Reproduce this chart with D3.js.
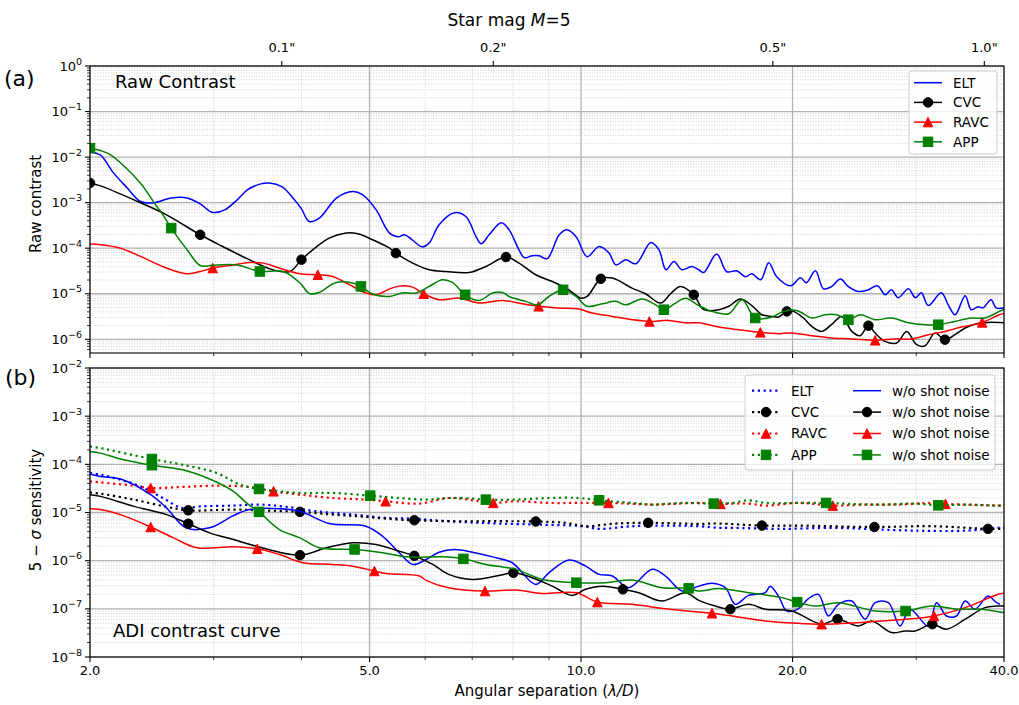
<!DOCTYPE html>
<html><head><meta charset="utf-8">
<script src="https://cdn.jsdelivr.net/npm/d3@7"></script>
<style>body{margin:0;background:#fff;} svg{display:block;font-family:"DejaVu Sans",sans-serif;}</style>
</head><body><svg id="chart" width="1019" height="705"></svg>
<script>
// ---------------- DATA ----------------
const sepMajorTicks = [2, 5, 10, 20, 40];
const sepMinorTicks = [3, 4, 6, 7, 8, 9, 30];
const arcsecTicks = [0.1, 0.2, 0.5, 1.0];
const ldPerArcsec = 37.5;

// Panel (a) raw contrast  [separation (lambda/D), contrast]
const rawELT = [[2.0,1.3e-2],[2.07,1.1e-2],[2.16,4.5e-3],[2.26,2.1e-3],[2.36,1.06e-3],[2.47,1.0e-3],[2.61,1.27e-3],[2.75,1.27e-3],[2.87,9.4e-4],[2.99,6.1e-4],[3.11,6.95e-4],[3.24,1.15e-3],[3.35,1.91e-3],[3.49,2.55e-3],[3.60,2.7e-3],[3.75,2.25e-3],[3.89,1.27e-3],[4.0,7.3e-4],[4.10,3.85e-4],[4.24,4.57e-4],[4.49,1.27e-3],[4.73,1.75e-3],[4.89,1.48e-3],[5.11,6.95e-4],[5.34,2.14e-4],[5.51,1.78e-4],[5.60,1.97e-4],[5.75,1.53e-4],[5.94,1.07e-4],[6.08,1.31e-4],[6.28,3.26e-4],[6.60,6.0e-4],[6.86,4.9e-4],[7.09,1.78e-4],[7.21,1.25e-4],[7.40,1.97e-4],[7.70,3.6e-4],[7.90,2.53e-4],[8.16,9.2e-5],[8.30,6.2e-5],[8.52,6.8e-5],[8.72,6.8e-5],[8.95,5.9e-5],[9.31,1.97e-4],[9.55,2.53e-4],[9.84,1.78e-4],[10.2,6.5e-5],[10.61,1.09e-4],[10.96,7.8e-5],[11.21,4.3e-5],[11.58,5.6e-5],[11.97,4.55e-5],[12.57,1.33e-4],[12.91,9.2e-5],[13.21,3.36e-5],[13.56,5.1e-5],[13.92,3.36e-5],[14.38,3.97e-5],[14.71,3.36e-5],[14.95,2.93e-5],[15.6,7.5e-5],[16.12,3.04e-5],[16.65,3.2e-5],[17.15,2.36e-5],[17.5,2.75e-5],[18.02,2.03e-5],[18.5,4.8e-5],[18.99,2.36e-5],[19.87,1.5e-5],[20.53,2.24e-5],[20.93,1.74e-5],[21.56,3.2e-5],[22.13,1.29e-5],[22.72,1.43e-5],[23.4,2.1e-5],[24.02,1.43e-5],[24.82,1.12e-5],[25.65,1.22e-5],[26.41,1.5e-5],[27.11,9.5e-6],[27.65,1.22e-5],[28.29,8.2e-6],[29.24,1.29e-5],[29.91,8.2e-6],[30.51,1.05e-5],[31.21,5.5e-6],[32.56,1.05e-5],[33.32,5.7e-6],[34.08,3.46e-6],[35.22,9.0e-6],[35.92,4.46e-6],[36.75,5.2e-6],[37.35,4.9e-6],[38.34,7.4e-6],[38.98,4.9e-6],[40,4.9e-6]];
const rawCVC = [[2.0,2.7e-3],[2.07,2.33e-3],[2.31,1.15e-3],[2.57,5.4e-4],[2.87,1.97e-4],[3.09,1.09e-4],[3.37,5.6e-5],[3.64,3.36e-5],[3.85,3.08e-5],[4.0,5.6e-5],[4.15,9.2e-5],[4.38,1.66e-4],[4.61,2.14e-4],[4.81,2.07e-4],[5.05,1.53e-4],[5.34,1.0e-4],[5.45,7.8e-5],[5.76,4.7e-5],[6.08,3.36e-5],[6.42,3.08e-5],[6.93,2.93e-5],[7.32,3.97e-5],[7.82,6.4e-5],[8.16,4.7e-5],[8.62,2.61e-5],[9.20,1.72e-5],[9.61,1.22e-5],[9.99,8.0e-6],[10.2,8.7e-6],[10.67,2.13e-5],[11.08,2.21e-5],[11.82,1.33e-5],[12.35,1.0e-5],[12.98,6.25e-6],[13.41,1.0e-5],[13.85,1.45e-5],[14.47,9.5e-6],[14.95,4.46e-6],[15.71,4.46e-6],[16.23,5.3e-6],[16.86,7.65e-6],[17.5,5.5e-6],[18.09,3.46e-6],[18.69,3.18e-6],[19.10,3.08e-6],[19.63,4.1e-6],[20.06,4.1e-6],[20.73,2.93e-6],[21.30,1.92e-6],[22.0,1.49e-6],[22.72,2.09e-6],[23.5,3.18e-6],[24.29,1.49e-6],[24.96,1.2e-6],[25.65,1.99e-6],[26.22,1.37e-6],[27.08,9.0e-7],[28.13,8.3e-7],[29.08,1.49e-6],[30.04,7.6e-7],[30.88,7.2e-7],[31.9,1.37e-6],[32.96,9.8e-7],[34.05,1.26e-6],[35.22,1.77e-6],[36.55,2.2e-6],[37.96,2.35e-6],[40,2.3e-6]];
const rawRAVC = [[2.0,1.23e-4],[2.07,1.19e-4],[2.21,1.0e-4],[2.36,6.6e-5],[2.57,3.66e-5],[2.74,2.75e-5],[2.87,3.08e-5],[2.99,3.66e-5],[3.20,4.3e-5],[3.37,4.85e-5],[3.53,4.7e-5],[3.72,3.66e-5],[3.98,2.75e-5],[4.22,2.61e-5],[4.43,2.4e-5],[4.68,1.58e-5],[4.94,1.04e-5],[5.11,9.5e-6],[5.34,1.28e-5],[5.51,1.47e-5],[5.60,1.5e-5],[5.76,1.4e-5],[5.97,1.0e-5],[6.28,7.4e-6],[6.71,8.0e-6],[7.16,6.25e-6],[7.73,7.1e-6],[8.25,6.0e-6],[8.70,5.3e-6],[9.31,4.86e-6],[9.93,4.6e-6],[10.38,3.77e-6],[11.08,3.18e-6],[11.82,2.69e-6],[12.51,2.47e-6],[13.33,2.6e-6],[14.08,2.3e-6],[14.71,2.3e-6],[15.71,1.86e-6],[16.76,1.62e-6],[18.0,1.42e-6],[19.10,1.33e-6],[19.95,1.37e-6],[21.3,1.2e-6],[22.72,1.07e-6],[24.29,1.02e-6],[26.22,9.5e-7],[27.99,1.02e-6],[29.56,1.02e-6],[31.21,1.26e-6],[32.96,1.49e-6],[34.8,1.86e-6],[37.24,2.35e-6],[39.4,3.46e-6],[40,3.7e-6]];
const rawAPP = [[2.0,1.57e-2],[2.07,1.39e-2],[2.14,1.12e-2],[2.36,2.68e-3],[2.47,9.75e-4],[2.54,5.4e-4],[2.61,2.76e-4],[2.76,8.5e-5],[2.87,4.18e-5],[3.03,4.3e-5],[3.24,4.3e-5],[3.49,3.08e-5],[3.77,3.08e-5],[3.98,1.72e-5],[4.11,1.0e-5],[4.24,1.07e-5],[4.48,1.77e-5],[4.73,1.72e-5],[4.86,1.45e-5],[5.05,9.85e-6],[5.34,8.7e-6],[5.57,1.04e-5],[5.82,1.04e-5],[6.08,1.45e-5],[6.35,2.03e-5],[6.56,1.77e-5],[6.84,9.5e-6],[7.16,7.1e-6],[7.48,1.04e-5],[7.73,1.07e-5],[7.90,8.7e-6],[8.34,6.8e-6],[8.67,5.7e-6],[9.0,8.7e-6],[9.43,1.22e-5],[9.84,8.7e-6],[10.2,5.3e-6],[10.72,6.0e-6],[11.2,6.8e-6],[11.58,5.7e-6],[12.21,7.65e-6],[12.77,5.7e-6],[13.12,4.46e-6],[13.63,6.25e-6],[14.08,8.0e-6],[14.71,5.5e-6],[15.36,4.1e-6],[16.23,3.64e-6],[16.95,7.4e-6],[17.7,2.93e-6],[18.69,3.08e-6],[19.42,4.1e-6],[20.28,4.3e-6],[21.3,2.93e-6],[22.25,3.46e-6],[23.11,3.46e-6],[24.02,2.69e-6],[24.96,3.46e-6],[26.22,2.69e-6],[27.67,2.93e-6],[29.24,2.3e-6],[30.88,2.09e-6],[32.25,2.09e-6],[34.05,2.47e-6],[35.95,2.93e-6],[37.56,2.93e-6],[39.4,4.1e-6],[40,4.5e-6]];
const rawCVCMarks = [[2.0,2.7e-3],[2.87,1.97e-4],[4.0,5.6e-5],[5.45,7.8e-5],[7.82,6.4e-5],[10.67,2.13e-5],[14.47,9.5e-6],[19.63,4.1e-6],[25.65,1.99e-6],[32.96,9.8e-7]];
const rawRAVCMarks = [[2.99,3.66e-5],[4.22,2.61e-5],[5.97,1.0e-5],[8.70,5.3e-6],[12.51,2.47e-6],[18.0,1.42e-6],[26.22,9.5e-7],[37.24,2.35e-6]];
const rawAPPMarks = [[2.0,1.57e-2],[2.61,2.76e-4],[3.49,3.08e-5],[4.86,1.45e-5],[6.84,9.5e-6],[9.43,1.22e-5],[13.12,4.46e-6],[17.7,2.93e-6],[24.02,2.69e-6],[32.25,2.09e-6]];

// Panel (b) ADI 5-sigma sensitivity, with shot noise (dotted)
const adiELT = [[2.0,6.6e-5],[2.07,6.1e-5],[2.21,4.8e-5],[2.36,3.49e-5],[2.54,2.0e-5],[2.70,1.25e-5],[2.87,1.34e-5],[3.20,1.39e-5],[3.49,1.46e-5],[3.81,1.31e-5],[4.20,1.06e-5],[4.73,9.05e-6],[5.28,7.7e-6],[5.89,7.4e-6],[6.02,7.1e-6],[6.86,6.3e-6],[7.64,5.9e-6],[8.72,5.6e-6],[10.04,5.2e-6],[10.61,4.57e-6],[11.82,5.2e-6],[13.19,5.35e-6],[14.71,5.2e-6],[15.71,4.8e-6],[16.40,4.8e-6],[19.31,4.57e-6],[22.72,4.8e-6],[25.37,4.57e-6],[29.89,4.2e-6],[35.22,4.2e-6],[39.24,4.8e-6],[40,4.8e-6]];
const adiCVC = [[2.0,2.6e-5],[2.07,2.46e-5],[2.31,1.85e-5],[2.57,1.31e-5],[2.76,1.11e-5],[3.20,1.15e-5],[3.56,1.1e-5],[3.98,1.03e-5],[4.43,9.05e-6],[4.94,8.1e-6],[5.51,7.1e-6],[5.79,6.9e-6],[6.49,6.6e-6],[7.64,6.6e-6],[8.62,6.5e-6],[9.51,6.1e-6],[10.15,5.2e-6],[11.2,5.9e-6],[12.46,6.1e-6],[13.94,5.9e-6],[14.71,5.8e-6],[15.71,5.9e-6],[18.09,5.35e-6],[20.40,5.35e-6],[26.16,5.0e-6],[31.55,5.2e-6],[37.96,4.57e-6],[40,4.57e-6]];
const adiRAVC = [[2.0,4.43e-5],[2.07,4.22e-5],[2.31,3.6e-5],[2.44,3.23e-5],[2.71,3.39e-5],[3.03,3.6e-5],[3.37,3.39e-5],[3.65,2.75e-5],[3.98,2.35e-5],[4.43,2.0e-5],[4.94,1.85e-5],[5.27,1.71e-5],[5.89,1.53e-5],[6.49,2.0e-5],[7.16,1.71e-5],[7.50,1.58e-5],[8.07,1.71e-5],[9.0,1.58e-5],[9.93,1.58e-5],[10.94,1.58e-5],[11.82,1.51e-5],[12.77,1.46e-5],[14.71,1.58e-5],[15.79,1.51e-5],[17.32,1.53e-5],[18.29,1.39e-5],[20.40,1.58e-5],[22.82,1.39e-5],[25.37,1.46e-5],[28.29,1.46e-5],[31.55,1.58e-5],[33.01,1.51e-5],[39.24,1.39e-5],[40,1.39e-5]];
const adiAPP = [[2.0,2.35e-4],[2.07,2.17e-4],[2.45,1.29e-4],[2.71,9.8e-5],[3.03,6.6e-5],[3.27,3.78e-5],[3.48,3.08e-5],[3.98,2.55e-5],[4.43,2.55e-5],[5.01,2.24e-5],[5.51,2.0e-5],[6.02,1.85e-5],[6.49,2.0e-5],[7.01,1.94e-5],[7.32,1.85e-5],[8.07,1.85e-5],[9.0,2.0e-5],[9.93,2.0e-5],[10.61,1.79e-5],[11.82,1.58e-5],[12.63,1.46e-5],[13.94,1.58e-5],[15.45,1.53e-5],[16.40,1.58e-5],[17.32,1.79e-5],[18.29,1.58e-5],[20.40,1.58e-5],[22.33,1.58e-5],[24.02,1.51e-5],[26.78,1.46e-5],[29.89,1.53e-5],[32.25,1.41e-5],[35.22,1.46e-5],[39.24,1.39e-5],[40,1.39e-5]];
const adiCVCMarks = [[2.76,1.11e-5],[3.98,1.03e-5],[5.79,6.9e-6],[8.62,6.5e-6],[12.46,6.1e-6],[18.09,5.35e-6],[26.16,5.0e-6],[37.96,4.57e-6]];
const adiRAVCMarks = [[2.44,3.23e-5],[3.65,2.75e-5],[5.27,1.71e-5],[7.50,1.58e-5],[10.94,1.58e-5],[15.79,1.51e-5],[22.82,1.39e-5],[33.01,1.51e-5]];
const adiAPPMarks = [[2.45,1.29e-4],[3.48,3.08e-5],[5.01,2.24e-5],[7.32,1.85e-5],[10.61,1.79e-5],[15.45,1.53e-5],[22.33,1.58e-5],[32.25,1.41e-5]];

// Panel (b) without shot noise (solid)
const noShotELT = [[2.0,6.3e-5],[2.07,5.6e-5],[2.21,4.96e-5],[2.44,2.35e-5],[2.57,1.25e-5],[2.74,4.8e-6],[2.96,4.8e-6],[3.20,8.6e-6],[3.37,1.15e-5],[3.72,1.2e-5],[3.98,1.06e-5],[4.38,5.9e-6],[4.94,5.2e-6],[5.22,3.2e-6],[5.51,1.46e-6],[5.76,8.35e-7],[6.02,1.06e-6],[6.28,1.5e-6],[6.60,1.71e-6],[7.01,1.5e-6],[7.48,1.2e-6],[7.98,9.05e-7],[8.62,3.21e-7],[9.0,5.6e-7],[9.61,1.03e-6],[10.15,7.7e-7],[10.61,5.2e-7],[11.08,4.8e-7],[11.69,2.75e-7],[12.63,6.6e-7],[13.19,4.8e-7],[13.94,2.34e-7],[14.71,2.96e-7],[15.36,3.4e-7],[16.05,2.75e-7],[16.58,1.24e-7],[17.32,1.9e-7],[18.29,2.16e-7],[18.59,2.96e-7],[19.10,1.84e-7],[19.63,9.0e-8],[20.40,1.01e-7],[21.07,1.63e-7],[21.77,2.0e-7],[22.50,7.1e-8],[23.25,1.24e-7],[24.29,1.45e-7],[25.37,6.1e-8],[26.22,1.34e-7],[27.38,1.34e-7],[28.45,4.4e-8],[29.39,9.8e-8],[31.21,4.4e-8],[32.07,1.34e-7],[33.13,7.1e-8],[34.23,7.1e-8],[35.22,1.45e-7],[36.36,9.8e-8],[37.96,1.84e-7],[39.03,1.34e-7],[39.5,1.25e-7]];
const noShotCVC = [[2.0,2.35e-5],[2.07,2.16e-5],[2.31,1.34e-5],[2.57,9.05e-6],[2.76,5.85e-6],[2.96,3.78e-6],[3.20,2.75e-6],[3.45,2.0e-6],[3.98,1.3e-6],[4.34,1.85e-6],[4.73,2.35e-6],[5.11,2.16e-6],[5.51,1.57e-6],[5.79,1.26e-6],[6.15,8.35e-7],[6.48,5.2e-7],[7.01,4.08e-7],[7.64,4.9e-7],[8.01,5.6e-7],[8.52,4.43e-7],[9.10,2.96e-7],[9.72,1.9e-7],[10.15,2.54e-7],[10.72,2.96e-7],[11.47,2.54e-7],[12.08,2.16e-7],[13.04,1.45e-7],[14.08,2.16e-7],[14.71,1.5e-7],[15.53,1.14e-7],[16.31,9.8e-8],[17.32,1.24e-7],[18.29,9.8e-8],[19.95,9.0e-8],[22.0,4.8e-8],[23.18,6.1e-8],[24.82,4.4e-8],[25.93,5.6e-8],[27.67,3.21e-8],[28.91,3.47e-8],[29.89,3.47e-8],[31.62,4.8e-8],[33.13,3.77e-8],[35.22,6.1e-8],[37.56,1.06e-7],[39.03,1.14e-7],[40,1.14e-7]];
const noShotRAVC = [[2.0,1.19e-5],[2.07,1.15e-5],[2.23,8.6e-6],[2.44,5.0e-6],[2.63,2.98e-6],[2.84,1.85e-6],[3.20,1.94e-6],[3.46,1.76e-6],[3.72,1.34e-6],[4.02,9.05e-7],[4.43,8.35e-7],[4.73,7.7e-7],[5.08,6.1e-7],[5.28,5.4e-7],[5.89,4.8e-7],[6.02,3.9e-7],[6.48,2.75e-7],[7.30,2.34e-7],[8.07,2.45e-7],[8.81,2.09e-7],[9.85,2.16e-7],[10.55,1.38e-7],[11.82,1.24e-7],[13.19,1.0e-7],[14.71,8.6e-8],[15.36,8.1e-8],[16.40,7.1e-8],[18.29,5.6e-8],[20.40,5.0e-8],[22.0,4.8e-8],[24.02,5.0e-8],[26.78,5.6e-8],[29.89,6.3e-8],[31.80,7.1e-8],[35.22,1.06e-7],[39.24,2.0e-7],[40,2.1e-7]];
const noShotAPP = [[2.0,1.85e-4],[2.07,1.71e-4],[2.21,1.29e-4],[2.45,9.6e-5],[2.71,7.7e-5],[2.96,4.96e-5],[3.20,2.75e-5],[3.34,1.58e-5],[3.48,1.03e-5],[3.72,4.43e-6],[3.98,2.98e-6],[4.24,1.85e-6],[4.76,1.71e-6],[5.22,1.46e-6],[5.64,1.2e-6],[6.35,1.2e-6],[6.80,1.09e-6],[7.32,8.35e-7],[8.07,6.6e-7],[8.81,4.08e-7],[9.85,3.49e-7],[10.84,3.49e-7],[11.82,3.95e-7],[13.04,2.75e-7],[14.23,2.66e-7],[14.71,2.34e-7],[15.71,2.63e-7],[17.32,2.16e-7],[19.31,1.71e-7],[20.31,1.38e-7],[21.56,1.14e-7],[23.25,1.34e-7],[26.22,9.0e-8],[28.97,9.0e-8],[31.55,1.14e-7],[34.42,9.8e-8],[37.15,9.8e-8],[40,8.3e-8]];
const noShotCVCMarks = [[2.76,5.85e-6],[3.98,1.3e-6],[5.79,1.26e-6],[8.01,5.6e-7],[11.47,2.54e-7],[16.31,9.8e-8],[23.18,6.1e-8],[31.62,4.8e-8]];
const noShotRAVCMarks = [[2.44,5.0e-6],[3.46,1.76e-6],[5.08,6.1e-7],[7.30,2.34e-7],[10.55,1.38e-7],[15.36,8.1e-8],[22.0,4.8e-8],[31.80,7.1e-8]];
const noShotAPPMarks = [[2.45,9.6e-5],[3.48,1.03e-5],[4.76,1.71e-6],[6.80,1.09e-6],[9.85,3.49e-7],[14.23,2.66e-7],[20.31,1.38e-7],[28.97,9.0e-8]];

// ---------------- DRAWING ----------------
const COLORS = {ELT:'#0000ff', CVC:'#000000', RAVC:'#ff0000', APP:'#008000'};
const svg = d3.select('#chart');
const defs = svg.append('defs');
const X0 = 90, X1 = 1004;
const x = d3.scaleLog().domain([2, 40]).range([X0, X1]);
const MS = 9.5;

function marker(g, type, cx, cy, color, clip) {
  let m;
  if (type === 'circle') m = g.append('circle').attr('cx', cx).attr('cy', cy).attr('r', MS/2);
  else if (type === 'square') m = g.append('rect').attr('x', cx-MS/2).attr('y', cy-MS/2).attr('width', MS).attr('height', MS);
  else if (type === 'triangle') m = g.append('path').attr('d', `M${cx},${cy-MS/2}L${cx-MS/2},${cy+MS/2}L${cx+MS/2},${cy+MS/2}Z`);
  else return;
  m.attr('fill', color).attr('stroke', color).attr('stroke-width', 1).attr('stroke-linejoin','miter');
  if (clip) m.attr('clip-path', clip);
}

function supLabel(g, xx, yy, e, anchor) {
  const t = g.append('text').attr('x', xx).attr('y', yy).attr('text-anchor', anchor).attr('font-size', 13).attr('fill','#000');
  t.append('tspan').text('10');
  t.append('tspan').attr('dy', -6).attr('font-size', 9.5).text(e < 0 ? '\u2212' + (-e) : String(e));
}

function drawPanel(cfg) {
  const y = d3.scaleLog().domain(cfg.domain).range([cfg.bottom, cfg.top]);
  const g = svg.append('g');
  const clipId = 'clip' + cfg.id;
  defs.append('clipPath').attr('id', clipId).append('rect')
    .attr('x', X0).attr('y', cfg.top).attr('width', X1 - X0).attr('height', cfg.bottom - cfg.top);
  const clip = `url(#${clipId})`;
  const lo = Math.round(Math.log10(cfg.domain[0]) - 0.5), hi = Math.round(Math.log10(cfg.domain[1]));
  const majorY = [], minorY = [];
  for (let e = Math.floor(Math.log10(cfg.domain[0])); e <= hi; e++) {
    const b = Math.pow(10, e);
    if (b >= cfg.domain[0] * 0.999 && b <= cfg.domain[1] * 1.001) majorY.push(e);
    for (let k = 2; k <= 9; k++) { const v = k * b; if (v > cfg.domain[0] * 1.0001 && v < cfg.domain[1]) minorY.push(v); }
  }
  // minor grid
  const grid = g.append('g');
  minorY.forEach(v => grid.append('line').attr('x1', X0).attr('x2', X1).attr('y1', y(v)).attr('y2', y(v))
    .attr('stroke', '#c4c4c4').attr('stroke-width', 0.8).attr('stroke-dasharray', '1,1.6'));
  sepMinorTicks.forEach(v => grid.append('line').attr('x1', x(v)).attr('x2', x(v)).attr('y1', cfg.top).attr('y2', cfg.bottom)
    .attr('stroke', '#c4c4c4').attr('stroke-width', 0.8).attr('stroke-dasharray', '1,1.6'));
  majorY.forEach(e => grid.append('line').attr('x1', X0).attr('x2', X1).attr('y1', y(Math.pow(10, e))).attr('y2', y(Math.pow(10, e)))
    .attr('stroke', '#b0b0b0').attr('stroke-width', 1.3));
  sepMajorTicks.forEach(v => grid.append('line').attr('x1', x(v)).attr('x2', x(v)).attr('y1', cfg.top).attr('y2', cfg.bottom)
    .attr('stroke', '#b0b0b0').attr('stroke-width', 1.3));

  // series
  const line = d3.line().x(d => x(d[0])).y(d => y(d[1])).curve(d3.curveCatmullRom.alpha(0.5));
  const dg = g.append('g');
  cfg.series.forEach(s => {
    const p = dg.append('path').datum(s.data).attr('d', line).attr('fill', 'none')
      .attr('stroke', COLORS[s.name]).attr('stroke-width', s.dotted ? 2.2 : 1.5)
      .attr('stroke-linejoin', 'round').attr('clip-path', clip);
    if (s.dotted) p.attr('stroke-dasharray', '2.2,3.6');
    if (s.marks) s.marks.forEach(m => marker(dg, s.symbol, x(m[0]), y(m[1]), COLORS[s.name], clip));
  });

  // spines
  g.append('rect').attr('x', X0).attr('y', cfg.top).attr('width', X1 - X0).attr('height', cfg.bottom - cfg.top)
    .attr('fill', 'none').attr('stroke', '#000').attr('stroke-width', 1.1);
  // y ticks
  majorY.forEach(e => {
    const yy = y(Math.pow(10, e));
    g.append('line').attr('x1', X0 - 5).attr('x2', X0).attr('y1', yy).attr('y2', yy).attr('stroke', '#000').attr('stroke-width', 1.1);
    supLabel(g, X0 - 8, yy + 4.6, e, 'end');
  });
  minorY.forEach(v => g.append('line').attr('x1', X0 - 3).attr('x2', X0).attr('y1', y(v)).attr('y2', y(v)).attr('stroke', '#000').attr('stroke-width', 0.8));
  // x ticks (bottom)
  sepMajorTicks.forEach(v => g.append('line').attr('x1', x(v)).attr('x2', x(v)).attr('y1', cfg.bottom).attr('y2', cfg.bottom + 5).attr('stroke', '#000').attr('stroke-width', 1.1));
  sepMinorTicks.forEach(v => g.append('line').attr('x1', x(v)).attr('x2', x(v)).attr('y1', cfg.bottom).attr('y2', cfg.bottom + 3).attr('stroke', '#000').attr('stroke-width', 0.8));
  return {g, y};
}

// Panel (a)
const pa = drawPanel({id: 'a', top: 66, bottom: 353, domain: [5e-7, 1], series: [
  {name: 'ELT', data: rawELT},
  {name: 'CVC', data: rawCVC, marks: rawCVCMarks, symbol: 'circle'},
  {name: 'RAVC', data: rawRAVC, marks: rawRAVCMarks, symbol: 'triangle'},
  {name: 'APP', data: rawAPP, marks: rawAPPMarks, symbol: 'square'}
]});
// Panel (b)
const pb = drawPanel({id: 'b', top: 368, bottom: 657, domain: [1e-8, 1e-2], series: [
  {name: 'ELT', data: adiELT, dotted: true},
  {name: 'CVC', data: adiCVC, marks: adiCVCMarks, symbol: 'circle', dotted: true},
  {name: 'RAVC', data: adiRAVC, marks: adiRAVCMarks, symbol: 'triangle', dotted: true},
  {name: 'APP', data: adiAPP, marks: adiAPPMarks, symbol: 'square', dotted: true},
  {name: 'ELT', data: noShotELT},
  {name: 'CVC', data: noShotCVC, marks: noShotCVCMarks, symbol: 'circle'},
  {name: 'RAVC', data: noShotRAVC, marks: noShotRAVCMarks, symbol: 'triangle'},
  {name: 'APP', data: noShotAPP, marks: noShotAPPMarks, symbol: 'square'}
]});

// bottom tick labels
sepMajorTicks.forEach(v => svg.append('text').attr('x', x(v)).attr('y', 675).attr('text-anchor', 'middle')
  .attr('font-size', 13).text(v.toFixed(1)));
// top arcsec axis
arcsecTicks.forEach(a => {
  const xx = x(a * ldPerArcsec);
  svg.append('line').attr('x1', xx).attr('x2', xx).attr('y1', 66).attr('y2', 61).attr('stroke', '#000').attr('stroke-width', 1.1);
  svg.append('text').attr('x', xx).attr('y', 52).attr('text-anchor', 'middle').attr('font-size', 13).text(a.toFixed(1) + '"');
});

// titles & labels
const title = svg.append('text').attr('x', 509).attr('y', 26).attr('text-anchor', 'middle').attr('font-size', 17);
title.append('tspan').text('Star mag ');
title.append('tspan').attr('font-style', 'italic').text('M');
title.append('tspan').text('=5');

const xl = svg.append('text').attr('x', 547).attr('y', 696).attr('text-anchor', 'middle').attr('font-size', 15);
xl.append('tspan').text('Angular separation (');
xl.append('tspan').attr('font-style', 'italic').text('\u03bb/D');
xl.append('tspan').text(')');

svg.append('text').attr('transform', 'translate(41,204) rotate(-90)').attr('text-anchor', 'middle').attr('font-size', 15).text('Raw contrast');
const yl = svg.append('text').attr('transform', 'translate(41,510) rotate(-90)').attr('text-anchor', 'middle').attr('font-size', 15);
yl.append('tspan').text('5 \u2212 ');
yl.append('tspan').attr('font-style', 'italic').text('\u03c3');
yl.append('tspan').text(' sensitivity');

svg.append('text').attr('x', 4).attr('y', 86).attr('font-size', 22).text('(a)');
svg.append('text').attr('x', 5).attr('y', 385).attr('font-size', 22).text('(b)');
svg.append('text').attr('x', 115).attr('y', 88).attr('font-size', 18).text('Raw Contrast');
svg.append('text').attr('x', 113).attr('y', 637).attr('font-size', 18).text('ADI contrast curve');

// legends
function legendEntry(g, lx, ly, name, symbol, dotted, label) {
  const l = g.append('line').attr('x1', lx).attr('x2', lx + 28).attr('y1', ly).attr('y2', ly)
    .attr('stroke', COLORS[name]).attr('stroke-width', dotted ? 2.2 : 1.5);
  if (dotted) l.attr('stroke-dasharray', '2.2,3.6');
  if (symbol) marker(g, symbol, lx + 14, ly, COLORS[name], null);
  g.append('text').attr('x', lx + 39).attr('y', ly + 4.8).attr('font-size', 13.5).text(label);
}
const legA = svg.append('g');
legA.append('rect').attr('x', 909).attr('y', 71).attr('width', 88).attr('height', 83).attr('rx', 3)
  .attr('fill', '#fff').attr('fill-opacity', 0.8).attr('stroke', '#cccccc');
const legendNames = ['ELT', 'CVC', 'RAVC', 'APP'];
const legendSymbols = [null, 'circle', 'triangle', 'square'];
legendNames.forEach((n, i) => legendEntry(legA, 914, 82.7 + i * 19.7, n, legendSymbols[i], false, n));

const legB = svg.append('g');
legB.append('rect').attr('x', 745).attr('y', 375).attr('width', 250).attr('height', 95).attr('rx', 3)
  .attr('fill', '#fff').attr('fill-opacity', 0.8).attr('stroke', '#cccccc');
legendNames.forEach((n, i) => legendEntry(legB, 752, 390.7 + i * 21.4, n, legendSymbols[i], true, n));
legendNames.forEach((n, i) => legendEntry(legB, 853, 390.7 + i * 21.4, n, legendSymbols[i], false, 'w/o shot noise'));
</script></body></html>
